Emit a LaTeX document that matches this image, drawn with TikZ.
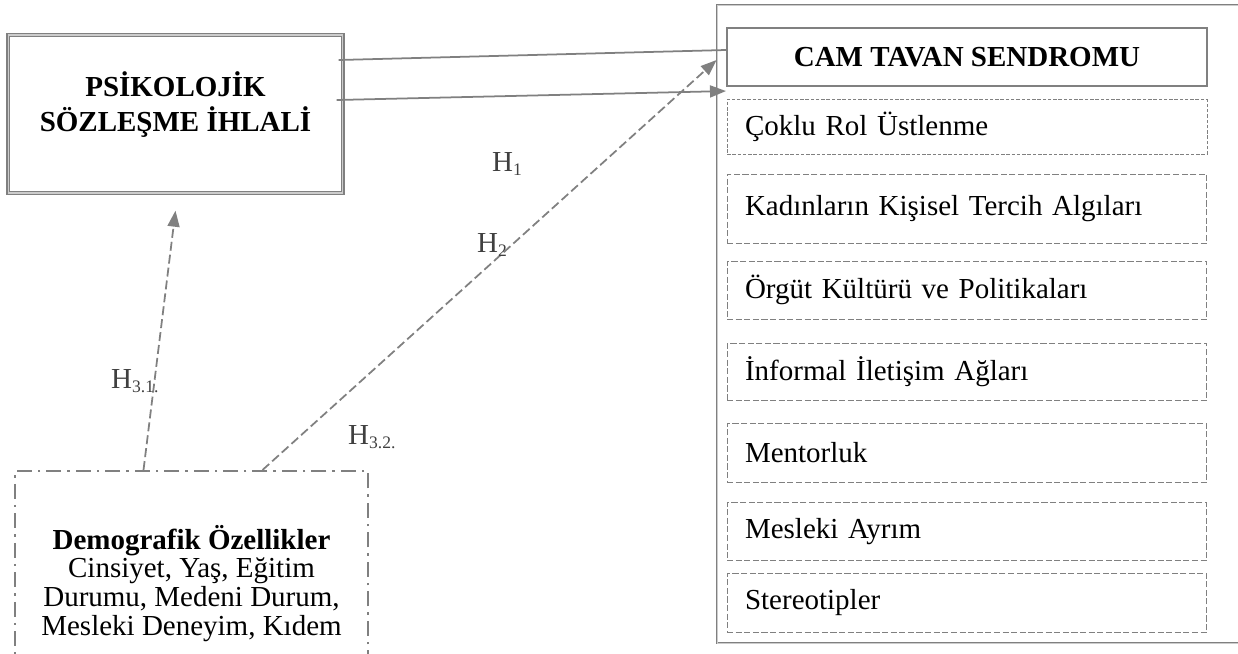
\documentclass[tikz,border=0pt]{standalone}
\usepackage{fontspec}
\setmainfont{Liberation Serif}
\usepackage{tikz}
\usetikzlibrary{arrows.meta,positioning,calc}
\definecolor{linegray}{RGB}{128,128,128}
\definecolor{labelgray}{RGB}{64,64,64}
\newcommand{\hsub}[1]{\raisebox{-0.35ex}{\fontsize{10}{10}\selectfont #1}}

\begin{document}
\begin{tikzpicture}[
    x=0.02cm, y=-0.02cm,
    font=\fontsize{16.5}{16.3}\selectfont,
    mainbox/.style={draw=linegray, line width=0.8pt, double=linegray!40,
                    double distance=0.6pt, align=center,
                    font=\fontsize{16.5}{20}\selectfont\bfseries},
    outerbox/.style={draw=linegray, line width=0.5pt, double=linegray!40,
                     double distance=0.4pt},
    titlebox/.style={draw=linegray, line width=1.2pt,
                     minimum width=9.6cm, minimum height=1.16cm,
                     font=\fontsize{16.5}{20}\selectfont\bfseries},
    factor/.style={draw=linegray, line width=0.6pt,
                   dash pattern=on 3.5pt off 1.4pt,
                   minimum width=9.6cm, text width=8.88cm,
                   inner xsep=0.36cm, align=left},
    fine/.style={line width=0.4pt, dash pattern=on 2pt off 1pt},
    demobox/.style={draw=linegray, line width=1pt,
                    dash pattern=on 0.3cm off 0.12cm on 0.05cm off 0.12cm,
                    align=center, minimum width=7.06cm, minimum height=4.5cm},
    solline/.style={draw=linegray, line width=1pt},
    solarr/.style={solline, -{Triangle[length=0.32cm, width=0.24cm]}},
    dasharr/.style={solarr, dash pattern=on 0.18cm off 0.08cm},
    hyp/.style={anchor=base west, text=labelgray}
]
\useasboundingbox (0,0) rectangle (1238,653);

% left side
\node[mainbox, minimum width=6.7cm, minimum height=3.16cm,
      text depth=0.5cm] (psy) at (175.5,114) {PSİKOLOJİK\\SÖZLEŞME İHLALİ};
\node[demobox, anchor=north] (demo) at (191.5,470)
    {\textbf{Demografik Özellikler}\\Cinsiyet, Yaş, Eğitim\\Durumu, Medeni Durum,\\Mesleki Deneyim, Kıdem};

% right side
\node[outerbox, minimum width=10.56cm, minimum height=12.76cm] (ctbox) at (981,324) {};
\node[titlebox] (cam) at (967,57) {CAM TAVAN SENDROMU};
\node[factor, fine, minimum height=1.1cm, below=0.24cm of cam] (f1) {Çoklu Rol Üstlenme};
\node[factor, minimum height=1.38cm, below=0.38cm of f1] (f2) {Kadınların Kişisel Tercih Algıları};
\node[factor, minimum height=1.16cm, below=0.34cm of f2] (f3) {Örgüt Kültürü ve Politikaları};
\node[factor, minimum height=1.14cm, below=0.46cm of f3] (f4) {İnformal İletişim Ağları};
\node[factor, minimum height=1.18cm, below=0.44cm of f4] (f5) {Mentorluk};
\node[factor, minimum height=1.16cm, below=0.38cm of f5] (f6) {Mesleki Ayrım};
\node[factor, minimum height=1.18cm, below=0.24cm of f6] (f7) {Stereotipler};

% connectors
\draw[solline] ($(psy.east)+(-5,-54)$) -- ($(cam.west)+(0,-7)$);
\draw[solarr] ($(psy.east)+(-7,-14)$) -- ($(cam.south west)+(0,4)$);
\draw[dasharr] ($(demo.north)+(71,0)$) -- ($(ctbox.west |- cam.west)+(0,3)$);
\draw[dasharr] ($(demo.north)+(-48,0)$) -- ($(psy.south)+(0,17)$);

% hypothesis labels
\node[hyp] (h1) at (486,171) {H\hsub{1}};
\node[hyp] (h2) at (471,252) {H\hsub{2}};
\node[hyp] (h31) at (105,388) {H\hsub{3.1.}};
\node[hyp] (h32) at (342,444) {H\hsub{3.2.}};
\end{tikzpicture}
\end{document}
